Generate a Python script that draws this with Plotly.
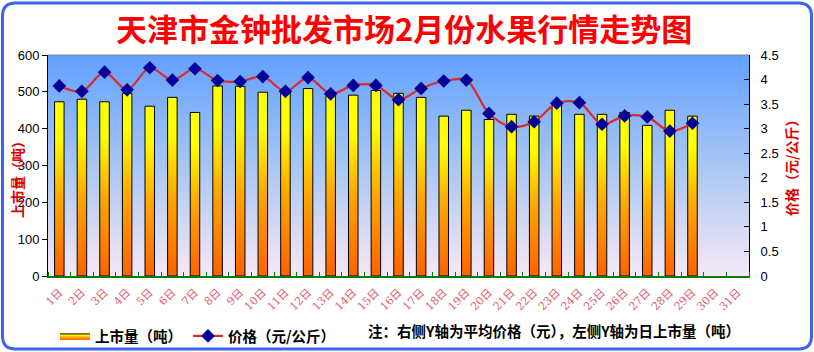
import base64
import plotly.graph_objects as go

# ---------------- data ----------------
days = list(range(1, 32))
day_labels = [f"{d}日" for d in days]
volume = [473, 480, 473, 496, 461, 485, 444, 516, 515, 499,
          500, 509, 496, 491, 504, 496, 485, 434, 450, 425,
          439, 434, 465, 439, 439, 444, 409, 450, 434]
price = [3.87, 3.76, 4.15, 3.79, 4.24, 3.99, 4.22, 3.98, 3.96, 4.06,
         3.76, 4.04, 3.71, 3.88, 3.88, 3.59, 3.82, 3.97, 3.99, 3.31,
         3.04, 3.14, 3.52, 3.53, 3.09, 3.26, 3.24, 2.95, 3.11]
title_text = "天津市金钟批发市场2月份水果行情走势图"
vol_name = "上市量（吨）"
price_name = "价格（元/公斤）"
left_title = "上市量（吨）"
right_title = "价格（元/公斤）"
note_text = "注：右侧Y轴为平均价格（元），左侧Y轴为日上市量（吨）"

# ---------------- layout geometry ----------------
W, H = 814, 352
ML, MR, MT, MB = 48, 65, 55, 76
PW, PH = W - ML - MR, H - MT - MB


def px(x):
    return (x - ML) / PW


def py(y):
    return (H - MB - y) / PH


CJK = "Noto Sans CJK SC"
BAR_W = 0.42
bar_scale = [[0, "#ff6200"], [0.45, "#ffa800"], [0.8, "#ffff00"], [1, "#ffff00"]]

fig = go.Figure()

# bars drawn as gradient-filled polygons
for i, (d, v) in enumerate(zip(days, volume)):
    fig.add_trace(go.Scatter(
        x=[d - BAR_W / 2, d + BAR_W / 2, d + BAR_W / 2, d - BAR_W / 2, d - BAR_W / 2],
        y=[0, 0, v, v, 0],
        mode="lines", fill="toself",
        fillgradient=dict(type="vertical", colorscale=bar_scale),
        line=dict(color="black", width=1),
        name=vol_name, legendgroup="vol", showlegend=(i == 0),
        hoverinfo="skip",
    ))

fig.add_trace(go.Scatter(
    x=days[:len(price)], y=price, yaxis="y2", name=price_name,
    mode="lines+markers",
    line=dict(color="#e0262e", width=2.2, shape="spline", smoothing=0.9),
    marker=dict(symbol="diamond", size=10.5, color="#000099"),
))

# blank legend spacer so the last legend label is not clipped
fig.add_trace(go.Scatter(x=[None], y=[None], mode="none", name=" ",
                         showlegend=True, hoverinfo="skip"))

# gradient plot background
svg = ("<svg xmlns='http://www.w3.org/2000/svg' width='100' height='100' viewBox='0 0 100 100' "
       "preserveAspectRatio='none'><defs><linearGradient id='g' x1='0' y1='0' x2='0' y2='1'>"
       "<stop offset='0' stop-color='#62a0ff'/><stop offset='0.5' stop-color='#a8c6f4'/>"
       "<stop offset='1' stop-color='#f6e8f6'/></linearGradient></defs>"
       "<rect width='100' height='100' fill='url(#g)'/></svg>")
src = "data:image/svg+xml;base64," + base64.b64encode(svg.encode()).decode()

# rounded outer border
x0, x1, y0, y1 = px(2.5), px(811.5), py(349), py(3)
r = 13
rx, ry = r / PW, r / PH
border = (f"M {x0+rx},{y1} L {x1-rx},{y1} Q {x1},{y1} {x1},{y1-ry} "
          f"L {x1},{y0+ry} Q {x1},{y0} {x1-rx},{y0} L {x0+rx},{y0} "
          f"Q {x0},{y0} {x0},{y0+ry} L {x0},{y1-ry} Q {x0},{y1} {x0+rx},{y1} Z")

fig.update_layout(
    width=W, height=H,
    margin=dict(l=ML, r=MR, t=MT, b=MB, autoexpand=False),
    paper_bgcolor="white", plot_bgcolor="rgba(0,0,0,0)",
    font=dict(family="Liberation Sans, Arial", size=13, color="black"),
    images=[dict(source=src, xref="paper", yref="paper", x=0, y=1, sizex=1, sizey=1,
                 xanchor="left", yanchor="top", sizing="stretch", layer="below")],
    xaxis=dict(range=[0.5, 31.5], tickmode="array", tickvals=days, ticktext=day_labels,
               ticks="", tickangle=-45, showgrid=False, zeroline=False, automargin=False,
               showline=True, linecolor="#008000", linewidth=1.5, ticklabelstandoff=4,
               tickfont=dict(family="DejaVu Serif, " + CJK, size=11, color="#e05a68"),
               minor=dict(tickmode="array", tickvals=[d - 0.5 for d in days] + [days[-1] + 0.5],
                          ticks="inside", ticklen=4, tickcolor="#008000", tickwidth=1,
                          showgrid=False)),
    yaxis=dict(range=[0, 600], dtick=100, ticks="outside", ticklen=5, tickcolor="black",
               showline=True, linecolor="black", linewidth=1, showgrid=False, zeroline=False,
               automargin=False, tickfont=dict(size=13)),
    yaxis2=dict(range=[0, 4.5], dtick=0.5, overlaying="y", side="right",
                ticks="inside", ticklen=5, tickcolor="black", showline=True, automargin=False,
                linecolor="black", linewidth=1, showgrid=False, zeroline=False,
                tickfont=dict(size=13), ticklabelstandoff=8),
    legend=dict(orientation="h", x=px(55), y=py(320), xanchor="left", yanchor="top",
                bgcolor="rgba(0,0,0,0)", font=dict(family=CJK, size=14.5, color="black", weight=700),
                itemwidth=30, tracegroupgap=0, entrywidth=88, entrywidthmode="pixels",
                itemclick=False, itemdoubleclick=False),
    shapes=[
        dict(type="line", xref="paper", yref="paper", x0=0, x1=1, y0=1, y1=1,
             line=dict(color="#808080", width=1)),
        dict(type="path", xref="paper", yref="paper", path=border,
             line=dict(color="#3a66e8", width=3), layer="above"),
    ],
    annotations=[
        dict(text=title_text, xref="paper", yref="paper", x=px(404), y=py(28),
             xanchor="center", yanchor="middle", showarrow=False,
             font=dict(family=CJK, size=31, color="#ff0000", weight=700)),
        dict(text=left_title, xref="paper", yref="paper", x=px(17), y=py(176),
             xanchor="center", yanchor="middle", showarrow=False, textangle=-90,
             font=dict(family=CJK, size=14, color="#e00000", weight=700)),
        dict(text=right_title, xref="paper", yref="paper", x=px(791), y=py(165),
             xanchor="center", yanchor="middle", showarrow=False, textangle=-90,
             font=dict(family=CJK, size=14, color="#e00000", weight=700)),
        dict(text=note_text, xref="paper", yref="paper", x=px(366), y=py(330),
             xanchor="left", yanchor="middle", showarrow=False,
             font=dict(family=CJK, size=14.5, color="black", weight=700)),
    ],
)

fig.write_html("out.html")
